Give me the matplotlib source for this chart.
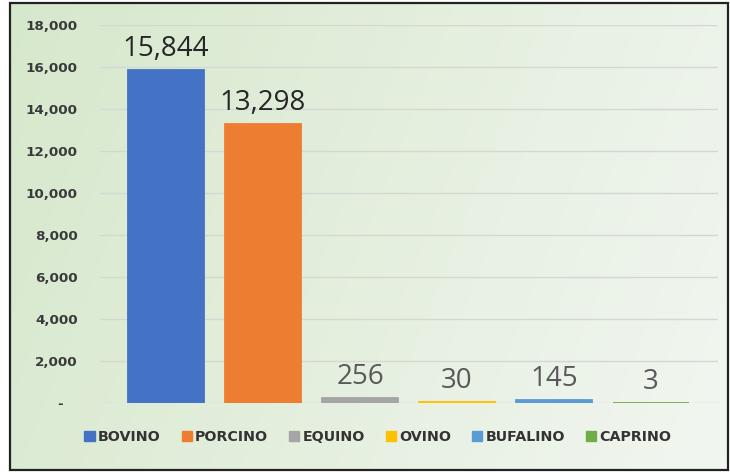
import numpy as np
import matplotlib.pyplot as plt
from matplotlib.patches import Rectangle
from matplotlib.ticker import FuncFormatter

especies = ["BOVINO", "PORCINO", "EQUINO", "OVINO", "BUFALINO", "CAPRINO"]
valores = [15844, 13298, 256, 30, 145, 3]
cores = ["#4472C4", "#ED7D31", "#A5A5A5", "#FFC000", "#5B9BD5", "#70AD47"]
yticks = [0, 2000, 4000, 6000, 8000, 10000, 12000, 14000, 16000, 18000]

W, H = 730, 472
fig = plt.figure(figsize=(W / 100, H / 100), dpi=100)
fig.patch.set_facecolor("white")

# fundo em degradê verde -> branco, dentro da moldura
x0, y0, x1, y1 = 10 / W, 1 - 470 / H, 728 / W, 1 - 3 / H
bg = fig.add_axes([x0, y0, x1 - x0, y1 - y0], zorder=0)
gx = np.linspace(0, 1, 256)
gy = np.linspace(0, 1, 64)
t = np.clip(0.8 * gx[None, :] + 0.2 * gy[:, None], 0, 1)
c_esq = np.array([0.84, 0.91, 0.80])
c_dir = np.array([0.95, 0.965, 0.945])
img = c_esq * (1 - t[..., None]) + c_dir * t[..., None]
bg.imshow(img, aspect="auto", extent=[0, 1, 0, 1])
bg.set_axis_off()
fig.patches.append(Rectangle((x0, y0), x1 - x0, y1 - y0, transform=fig.transFigure,
                             fill=False, edgecolor="#222222", linewidth=1.6, zorder=10))

ax = fig.add_axes([100 / W, 1 - 403 / H, 618 / W, 378 / H], zorder=1)
ax.set_facecolor("none")
x = np.arange(len(especies))
bars = ax.bar(x, valores, width=0.79, color=cores, edgecolor=cores, linewidth=1.3, zorder=3)

for i, (b, v) in enumerate(zip(bars, valores)):
    cor = "#262626" if i < 2 else "#595959"
    ax.annotate(f"{v:,}", (b.get_x() + b.get_width() / 2, v), xytext=(0, 5),
                textcoords="offset points", ha="center", va="bottom",
                fontsize=20, color=cor, family="Open Sans")

ax.set_xlim(-0.68, 5.69)
ax.set_ylim(0, 18000)
ax.set_yticks(yticks)
ax.yaxis.set_major_formatter(FuncFormatter(lambda v, p: "-   " if v == 0 else f"{int(v):,}"))
for lab in ax.get_yticklabels():
    lab.set_fontweight("bold")
ax.tick_params(axis="y", labelsize=9.7, labelcolor="#3a3a3a", length=0, pad=16)
ax.tick_params(axis="x", bottom=False, labelbottom=False)
ax.grid(axis="y", color="#d4d8d2", linewidth=1, zorder=0)
for s in ax.spines.values():
    s.set_visible(False)

handles = [Rectangle((0, 0), 1, 1, color=c) for c in cores]
leg = fig.legend(handles, especies, loc="center", bbox_to_anchor=(378 / W, 1 - 437 / H),
                 ncol=6, frameon=False, handlelength=0.7, handleheight=0.7,
                 handletextpad=0.25, columnspacing=1.45,
                 prop={"weight": "bold", "size": 10.3})
for t in leg.get_texts():
    t.set_color("#333333")

fig.savefig("out.png", dpi=100)
